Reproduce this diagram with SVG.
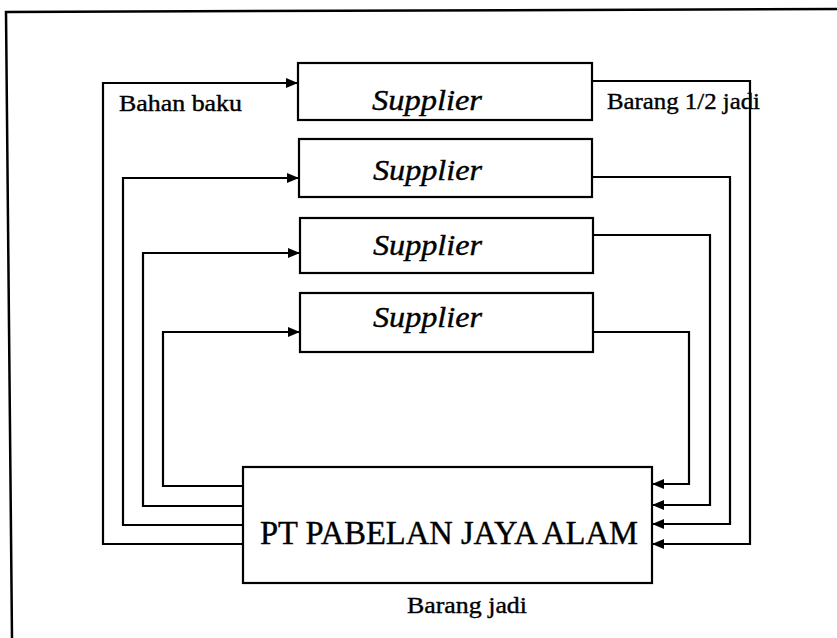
<svg xmlns="http://www.w3.org/2000/svg" width="837" height="638" viewBox="0 0 837 638">
<style>
.box{fill:#fff;stroke:#000;stroke-width:2.2}
.ln{fill:none;stroke:#000;stroke-width:2.2}
.frame{fill:none;stroke:#000;stroke-width:2.5}
text{font-family:"Liberation Serif","Times New Roman",serif;fill:#000;stroke:#000;stroke-width:0.4}
.sup{font-style:italic;font-size:30px}
.lbl{font-size:24px}
.main{font-size:33px}
</style>
<defs>
<marker id="ah" viewBox="0 0 12 10" refX="12" refY="5" markerWidth="12" markerHeight="10" markerUnits="userSpaceOnUse" orient="auto">
<path d="M0,0 L12,5 L0,10 z" fill="#000"/>
</marker>
</defs>
<rect width="837" height="638" fill="#fff"/>
<polyline class="frame" points="12,638 6,12 837,9"/>
<g id="connectors">
<polyline class="ln" points="243,544 103,544 103,83 298,83" marker-end="url(#ah)"/>
<polyline class="ln" points="243,525 123,525 123,178 299,178" marker-end="url(#ah)"/>
<polyline class="ln" points="243,506 143,506 143,253 300,253" marker-end="url(#ah)"/>
<polyline class="ln" points="243,486 163,486 163,332 300,332" marker-end="url(#ah)"/>
<polyline class="ln" points="592,81 750,81 750,544 652,544" marker-end="url(#ah)"/>
<polyline class="ln" points="592,177 730,177 730,524 652,524" marker-end="url(#ah)"/>
<polyline class="ln" points="593,235 710,235 710,505 652,505" marker-end="url(#ah)"/>
<polyline class="ln" points="593,332 689,332 689,484 652,484" marker-end="url(#ah)"/>
</g>
<g id="supplier1">
<rect class="box" x="298" y="63" width="294" height="57"/>
<text class="sup" x="372" y="110" textLength="110" lengthAdjust="spacingAndGlyphs">Supplier</text>
</g>
<g id="supplier2">
<rect class="box" x="299" y="139" width="293" height="58"/>
<text class="sup" x="373" y="180" textLength="109" lengthAdjust="spacingAndGlyphs">Supplier</text>
</g>
<g id="supplier3">
<rect class="box" x="300" y="218" width="293" height="55"/>
<text class="sup" x="373" y="255" textLength="109" lengthAdjust="spacingAndGlyphs">Supplier</text>
</g>
<g id="supplier4">
<rect class="box" x="300" y="293" width="293" height="59"/>
<text class="sup" x="373" y="327" textLength="109" lengthAdjust="spacingAndGlyphs">Supplier</text>
</g>
<g id="pt">
<rect class="box" x="243" y="467" width="409" height="116"/>
<text class="main" x="260" y="544" textLength="378" lengthAdjust="spacingAndGlyphs">PT PABELAN JAYA ALAM</text>
</g>
<g id="labels">
<text class="lbl" x="119" y="111" textLength="123" lengthAdjust="spacingAndGlyphs">Bahan baku</text>
<text class="lbl" x="607" y="109" textLength="153" lengthAdjust="spacingAndGlyphs">Barang 1/2 jadi</text>
<text class="lbl" x="407" y="613" textLength="120" lengthAdjust="spacingAndGlyphs">Barang jadi</text>
</g>
</svg>
